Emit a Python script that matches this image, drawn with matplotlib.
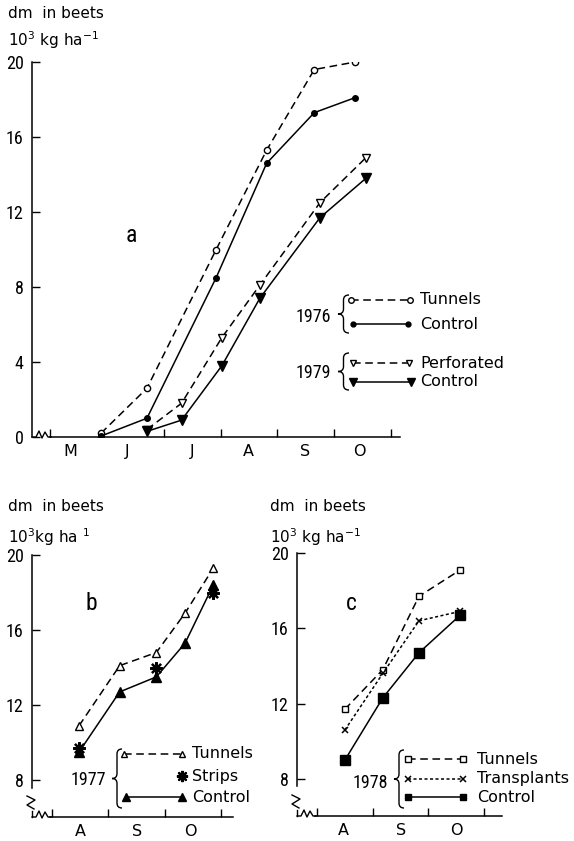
#!/usr/bin/env python3
"""
Dry matter in beets: a) 1976 / 1979, b) 1977, c) 1978
"""

import matplotlib
matplotlib.use("Agg")
from matplotlib import pyplot as plt
from matplotlib.lines import Line2D
from matplotlib.path import Path
from matplotlib.patches import PathPatch

NUMFONT = ["Roboto Condensed", "DejaVu Sans"]
plt.rcParams["font.family"] = ["DejaVu Sans"]
plt.rcParams["mathtext.fontset"] = "dejavusans"
plt.rcParams["mathtext.default"] = "regular"

# x values are months as decimals (7.0 = 1 July, 8.0 = 1 August ...)
a_x76 = [5.89, 6.70, 7.92, 8.81, 9.65, 10.37]
a_tunnels76 = [0.2, 2.6, 10.0, 15.3, 19.6, 20.0]
a_control76 = [0.05, 1.0, 8.5, 14.6, 17.3, 18.1]
a_x79 = [6.70, 7.31, 8.02, 8.69, 9.75, 10.56]
a_perforated79 = [0.4, 1.8, 5.3, 8.1, 12.5, 14.9]
a_control79 = [0.3, 0.9, 3.8, 7.4, 11.7, 13.8]

b_x = [8.48, 9.20, 9.85, 10.36, 10.86]
b_tunnels = [10.9, 14.1, 14.8, 16.9, 19.3]
b_control = [9.5, 12.7, 13.5, 15.3, 18.4]
b_strips_x = [8.48, 9.85, 10.86]
b_strips = [9.7, 14.0, 18.0]

c_x = [8.50, 9.18, 9.83, 10.57]
c_tunnels = [11.7, 13.8, 17.7, 19.1]
c_transplants = [10.6, 13.6, 16.4, 16.9]
c_control = [9.0, 12.3, 14.7, 16.7]

a_month_labels = ["M", "J", "J", "A", "S", "O"]
a_month_pos = [5.35, 6.35, 7.49, 8.49, 9.49, 10.44]
bc_month_labels = ["A", "S", "O"]
b_month_pos = [8.5, 9.5, 10.45]
c_month_pos = [8.47, 9.5, 10.5]

W, H = 574, 841
FS = 11.5
NUM_FS = 13
LW = 1.1
DASH = (0, (5, 3))
DOT = (0, (2, 1.6))

fig = plt.figure(figsize=(W / 100, H / 100), dpi=100)


def fx(x):
    return x / W


def fy(y):
    return 1 - y / H


def fig_line(xs, ys, **kw):
    kw.setdefault("color", "black")
    kw.setdefault("lw", LW)
    fig.add_artist(Line2D([fx(x) for x in xs], [fy(y) for y in ys],
                          transform=fig.transFigure, clip_on=False, **kw))


def fig_text(x, y, s, **kw):
    kw.setdefault("size", FS)
    kw.setdefault("va", "center")
    fig.text(fx(x), fy(y), s, **kw)


def year_text(x, y, s):
    fig_text(x, y, s, ha="right", size=13, family=NUMFONT)


def brace(xl, xr, yt, yb):
    # left-pointing curly brace, pixel coordinates
    xm = (xl + xr) / 2
    ym = (yt + yb) / 2
    r = 5
    verts = [(xr, yt), (xm, yt), (xm, yt + r), (xm, ym - r), (xm, ym), (xl, ym),
             (xm, ym), (xm, ym + r), (xm, yb - r), (xm, yb), (xr, yb)]
    codes = [Path.MOVETO, Path.CURVE3, Path.CURVE3, Path.LINETO, Path.CURVE3, Path.CURVE3,
             Path.CURVE3, Path.CURVE3, Path.LINETO, Path.CURVE3, Path.CURVE3]
    path = Path([(fx(x), fy(y)) for x, y in verts], codes)
    fig.add_artist(PathPatch(path, fill=False, lw=1.0, ec="black",
                             transform=fig.transFigure))


def legend_row(x1, x2, y, label, tx, **kw):
    fig_line([x1, x2], [y, y], **kw)
    fig_text(tx, y, label, ha="left")


def style_axes(ax, xlim, ylim, yticks, xticks, month_pos, month_labels, xstart, ystart):
    ax.set_xlim(xlim)
    ax.set_ylim(ylim)
    for s in ["top", "right"]:
        ax.spines[s].set_visible(False)
    ax.spines["left"].set_linewidth(LW)
    ax.spines["bottom"].set_linewidth(LW)
    ax.spines["bottom"].set_bounds(xstart, xlim[1])
    ax.spines["left"].set_bounds(ystart, ylim[1])
    ax.set_yticks(yticks)
    ax.set_yticklabels([str(v) for v in yticks])
    ax.set_xticks(xticks)
    ax.set_xticklabels([])
    ax.set_xticks(month_pos, minor=True)
    ax.set_xticklabels(month_labels, minor=True)
    ax.tick_params(axis="both", which="major", direction="in", length=6, width=1.0,
                   labelsize=NUM_FS, labelfontfamily=NUMFONT, pad=6)
    ax.tick_params(axis="x", which="minor", length=0, labelsize=FS, pad=5)
    ax.patch.set_alpha(0)


def axis_break(cx, cy, ybreak=False):
    # wavy break at the start of the x axis, optional Z on the y axis
    fig_line([cx, cx + 4, cx + 7, cx + 10, cx + 13, cx + 16, cx + 19],
             [cy, cy, cy - 6, cy + 1, cy - 5, cy, cy], lw=1.0)
    if ybreak:
        fig_line([cx, cx], [cy - 6, cy], lw=1.0)
        fig_line([cx - 5, cx + 3, cx - 5, cx + 2], [cy - 21, cy - 17, cy - 12, cy - 8], lw=1.0)


########################################
# a: 1976 tunnels/control, 1979 perforated/control
########################################
ax = fig.add_axes([fx(32), fy(437), 368 / W, 375 / H])
ax.plot(a_x76, a_tunnels76, ls=DASH, color="black", lw=LW, marker="o", ms=4.5,
        mfc="white", mec="black", mew=1.0, zorder=3)
ax.plot(a_x76, a_control76, ls="-", color="black", lw=LW, marker="o", ms=4,
        mfc="black", mec="black", zorder=3)
ax.plot(a_x79, a_perforated79, ls=DASH, color="black", lw=LW, marker="v", ms=5.5,
        mfc="white", mec="black", mew=1.0, zorder=3)
ax.plot(a_x79, a_control79, ls="-", color="black", lw=LW, marker="v", ms=6.5,
        mfc="black", mec="black", zorder=3)
style_axes(ax, (4.674, 11.16), (0, 20), [0, 4, 8, 12, 16, 20], [5.0, 7, 8, 9, 10, 11],
           a_month_pos, a_month_labels, 4.99, 0)
axis_break(32, 437)
fig_text(131, 236, "a", size=17, ha="center", family=NUMFONT)
fig_text(8, 13, "dm  in beets", ha="left", size=11)
fig_text(8, 40, "10$^3$ kg ha$^{-1}$", ha="left", size=11)

year_text(331, 317, "1976")
brace(338, 349, 295, 333)
legend_row(351, 410, 300, "Tunnels", 420, ls=DASH, marker="o", ms=4, mfc="white", mew=1.0)
legend_row(353, 408, 324, "Control", 420, ls="-", marker="o", ms=3.5, mfc="black")
year_text(331, 373, "1979")
brace(338, 349, 353, 390)
legend_row(353, 409, 363, "Perforated", 420, ls=DASH, marker="v", ms=5, mfc="white", mew=1.0)
legend_row(353, 411, 382, "Control", 420, ls="-", marker="v", ms=5.5, mfc="black")

########################################
# b: 1977
########################################
ax = fig.add_axes([fx(32), fy(817), 201 / W, 262 / H])
ax.plot(b_x, b_tunnels, ls=DASH, color="black", lw=LW, marker="^", ms=5.5,
        mfc="white", mec="black", mew=1.0, zorder=3)
ax.plot(b_x, b_control, ls="-", color="black", lw=LW, marker="^", ms=6.5,
        mfc="black", mec="black", zorder=3)
ax.plot(b_strips_x, b_strips, ls="none", color="black", marker=(8, 2, 0), ms=9,
        mew=1.6, zorder=4)
style_axes(ax, (7.645, 11.21), (6.03, 20), [8, 12, 16, 20], [8, 9, 10, 11],
           b_month_pos, bc_month_labels, 7.96, 7.6)
axis_break(32, 817, ybreak=True)
fig_text(91, 603, "b", size=17, ha="center", family=NUMFONT)
fig_text(8, 507, "dm  in beets", ha="left", size=11)
fig_text(8, 537, "10$^3$kg ha $^1$", ha="left", size=11)

year_text(106, 780, "1977")
brace(112, 122, 749, 808)
legend_row(124, 182, 754, "Tunnels", 192, ls=DASH, marker="^", ms=5, mfc="white", mew=1.0)
legend_row(182, 182, 776, "Strips", 192, ls="none", marker=(8, 2, 0), ms=8, mew=1.5)
legend_row(126, 182, 797, "Control", 192, ls="-", marker="^", ms=5.5, mfc="black")

########################################
# c: 1978
########################################
ax = fig.add_axes([fx(297), fy(816), 205 / W, 263 / H])
ax.plot(c_x, c_tunnels, ls=DASH, color="black", lw=LW, marker="s", ms=5,
        mfc="white", mec="black", mew=1.0, zorder=3)
ax.plot(c_x, c_transplants, ls=DOT, color="black", lw=LW, marker="x", ms=5,
        mec="black", mew=1.1, zorder=3)
ax.plot(c_x, c_control, ls="-", color="black", lw=LW, marker="s", ms=6.5,
        mfc="black", mec="black", zorder=3)
style_axes(ax, (7.641, 11.32), (6.03, 20), [8, 12, 16, 20], [8, 9, 10, 11],
           c_month_pos, bc_month_labels, 7.96, 7.6)
axis_break(297, 816, ybreak=True)
fig_text(351, 603, "c", size=17, ha="center", family=NUMFONT)
fig_text(270, 507, "dm  in beets", ha="left", size=11)
fig_text(270, 537, "10$^3$ kg ha$^{-1}$", ha="left", size=11)

year_text(388, 783, "1978")
brace(394, 404, 750, 808)
legend_row(408, 463, 759, "Tunnels", 477, ls=DASH, marker="s", ms=4.5, mfc="white", mew=1.0)
legend_row(408, 463, 779, "Transplants", 477, ls=DOT, marker="x", ms=4.5, mew=1.1)
legend_row(408, 463, 797, "Control", 477, ls="-", marker="s", ms=5, mfc="black")

plt.savefig("out.png", dpi=100)
plt.close()
